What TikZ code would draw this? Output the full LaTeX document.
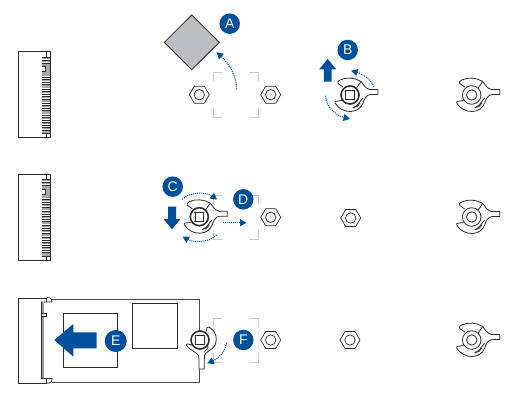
\documentclass[tikz,border=0pt]{standalone}
\usepackage{fontspec}
\setmainfont{Liberation Sans}
\usetikzlibrary{arrows.meta,bending}
\definecolor{asus}{HTML}{00509E}
\definecolor{dia}{HTML}{BCBDC0}
\definecolor{brk}{HTML}{C8C9CB}
\definecolor{line}{HTML}{2A2A2A}
\tikzset{
  outl/.style={draw=line,line width=0.8pt},
  badge/.style={circle,fill=asus,text=white,minimum size=20.5pt,inner sep=0pt,font=\fontsize{14}{14}\selectfont},
  dotarrow/.style={draw=asus,line width=1.1pt,dash pattern=on 1pt off 1pt,
     -{Triangle[length=6.5pt,width=7pt,fill=asus,sep=0pt]}},
  solidarrow/.style={fill=asus,draw=none},
  brack/.style={draw=brk,line width=1pt},
}
\newcommand{\nutat}[2]{%
  \begin{scope}[shift={(#1,#2)}]
    \draw[line,line width=0.7pt,fill=white] (-10,0)--(-5,-8.5)--(5,-8.5)--(10,0)--(5,8.5)--(-5,8.5)--cycle;
    \draw[line,line width=0.7pt] (0,0) circle (5.2);
  \end{scope}}
\newcommand{\wingshape}{%
    \draw[line,line width=0.8pt,fill=white,line join=round]
      (-7,-8) -- (-12,-11.5) .. controls (-13,-13) and (-12,-14) .. (-10,-15)
      .. controls (-4,-18) and (5,-17.5) .. (11,-13.5)
      .. controls (14,-10) and (15,-6.5) .. (20,-5.5) -- (28,-5.5) -- (28,-0.5) -- (21,-0.5)
      .. controls (16,-0.5) and (14.5,4) .. (13,8)
      .. controls (11,13) and (7,16) .. (1,16.5)
      .. controls (-6,17) and (-12,13) .. (-15,8)
      .. controls (-15.5,7) and (-15,6.3) .. (-14,6.3) -- (-8,5.5);
    \draw[line,line width=0.8pt] (11,-13.5) -- (6.5,-7);
    \draw[line,line width=0.8pt] (3,12.8) .. controls (8,11) and (10,6) .. (13,3);
    \draw[line,line width=0.8pt] (3,12.8) .. controls (6,13) and (8,11) .. (10,8);
    \draw[line,line width=0.8pt,fill=white] (0,0) circle (9.3);}
\newcommand{\wingplain}[2]{%
  \begin{scope}[shift={(#1,#2)}]
    \wingshape
    \draw[line,line width=0.8pt] (0,0) circle (5.2);
  \end{scope}}
\newcommand{\screwsq}{%
    \draw[line,line width=1.3pt,fill=white] (0,0) circle (8.9);
    \draw[line,line width=0.6pt] (-4.4,-4.4) rectangle (4.4,4.4);
    \foreach \a in {45,135,225,315}{\fill[line] (\a:6.2) circle (0.7);}}
\newcommand{\wingscrew}[2]{%
  \begin{scope}[shift={(#1,#2)}]
    \wingshape
    \screwsq
  \end{scope}}
\newcommand{\wingdown}[2]{%
  \begin{scope}[shift={(#1,#2)}]
    \draw[line,line width=0.8pt,fill=white,line join=round]
      (6,-8) -- (7,-12.5) .. controls (8,-13.5) and (9,-13) .. (10.5,-12)
      .. controls (16,-8) and (17.5,-2) .. (15.5,4)
      .. controls (14,8) and (10,10) .. (6,13)
      .. controls (4.5,14.5) and (4.3,16) .. (4.3,18.5) -- (4.3,29) -- (-1,29) -- (-1,19)
      .. controls (-1,15) and (-3,13) .. (-6,11.5)
      .. controls (-9,10) and (-12,8) .. (-13.5,5.5)
      .. controls (-14,4.3) and (-13,3.5) .. (-12,4) -- (-7,5.5);
    \draw[line,line width=0.8pt] (7.5,5) .. controls (9,8) and (7,9.5) .. (4.5,11.5);
    \draw[line,line width=0.8pt,fill=white] (0,0) circle (9.3);
    \screwsq
  \end{scope}}
\newcommand{\brackets}[4]{% x1 y1 x2 y2
  \draw[brack] (#1+9,#2)--(#1,#2)--(#1,#2+9);
  \draw[brack] (#3-9,#2)--(#3,#2)--(#3,#2+9);
  \draw[brack] (#1+9,#4)--(#1,#4)--(#1,#4-9);
  \draw[brack] (#3-9,#4)--(#3,#4)--(#3,#4-9);}
\newcommand{\slot}[1]{%
  \begin{scope}[shift={(0,#1)}]
    \draw[outl,fill=white,line width=1pt] (18.5,52) rectangle (50.5,137.5);
    \fill[gray!70] (41.5,57) rectangle (50,133.5);
    \fill[white] (41,66.5) rectangle (45.5,71.5);
    \draw[line,line width=0.6pt] (41.5,66.5)--(45.5,66.5)--(45.5,71.5)--(41.5,71.5);
    \fill[white] (46.5,52.5) rectangle (50,57);
    \fill[white] (46.5,133.5) rectangle (50,137);
    \draw[line,line width=0.6pt] (46.5,52)--(46.5,57);
    \draw[line,line width=0.6pt] (46.5,133.5)--(46.5,137.5);
    \draw[line,line width=0.6pt] (41.5,57)--(50,57);
    \draw[line,line width=0.6pt] (41.5,133.5)--(50,133.5);
    \foreach \y in {59,62,76,78.5,81,83.5,88,90.5,93,95.5,98,102,104.5,107,109.5,114,116.5,119,121.5,124,126.5,129}{
      \draw[white,line width=0.7pt] (42,\y)--(50,\y);
      \draw[line,line width=0.5pt] (42,\y+1)--(50,\y+1);}
  \end{scope}}
\begin{document}
\begin{tikzpicture}[x=1pt,y=-1pt]
\useasboundingbox (0,0) rectangle (524,401);
\fill[white] (0,0) rectangle (524,401);

% slots
\slot{0}
\slot{122.5}

% row 1
\draw[outl,fill=dia] (191.7,15)--(219.3,42.3)--(191.7,69.7)--(164.3,42.3)--cycle;
\brackets{213.3}{72.3}{258.3}{117.3}
\nutat{199.3}{94.7}
\nutat{270.7}{94.7}
\node[badge] (A) at (229.7,23.7) {A};
\coordinate (a1) at (236.7,89.3);
\coordinate (a2) at (216.5,52.3);
\draw[dotarrow] (a1) .. controls (236.5,75) and (228,61) .. (a2);
\wingscrew{350}{95}
\node[badge] (B) at (347.7,50) {B};
\fill[solidarrow] (327.7,59)--(336.2,69.3)--(331.5,69.3)--(331.5,81.7)--(323.9,81.7)--(323.9,69.3)--(319.2,69.3)--cycle;
\coordinate (b1) at (374,87);
\coordinate (b2) at (351,70.7);
\draw[dotarrow] (b1) .. controls (371,79) and (362,73) .. (b2);
\coordinate (b3) at (325.7,95.7);
\coordinate (b4) at (350,119);
\draw[dotarrow] (b3) .. controls (326,107) and (336,117) .. (b4);
\wingplain{471.7}{95}

% row 2
\brackets{213.3}{195}{258.3}{239.3}
\wingscrew{199.3}{216.7}
\nutat{270.7}{217.3}
\nutat{350.7}{218}
\wingplain{471.7}{217}
\node[badge] (C) at (172.7,186.7) {C};
\node[badge] (D) at (243.3,199.3) {D};
\fill[solidarrow] (172,229.3)--(180.5,219)--(176,219)--(176,206.7)--(168,206.7)--(168,219)--(163.5,219)--cycle;
\coordinate (c1) at (182.3,199.3);
\coordinate (c2) at (217,199.5);
\draw[dotarrow] (c1) .. controls (190,192) and (208,190) .. (c2);
\coordinate (c3) at (216.7,235);
\coordinate (c4) at (182.5,236.5);
\draw[dotarrow] (c3) .. controls (208,243) and (192,244) .. (c4);
\coordinate (d1) at (222.7,222.7);
\coordinate (d2) at (246.5,222.7);
\draw[dotarrow] (d1) -- (d2);

% row 3
\draw[line,line width=1pt] (46.5,298) -- (18.5,298) -- (18.5,383) -- (46.5,383);
\draw[line!85,line width=1pt] (51.5,299) -- (199.5,299) -- (199.5,382) -- (51.5,382);
\draw[line,line width=0.7pt] (46.5,297.8) -- (49.5,297.8) .. controls (51.3,297.8) and (52,300) .. (52,302) -- (41.5,302) -- (41.5,305);
\draw[line,line width=0.7pt] (46.5,383) -- (49.5,383) .. controls (51.3,383) and (52,381) .. (52,378.5) -- (41.5,378.5) -- (41.5,376);
\draw[line,line width=0.7pt] (46.5,297.8)--(46.5,302);
\draw[line,line width=0.7pt] (46.5,383)--(46.5,378.5);
\fill[gray!80] (41.6,303) rectangle (44.3,378);
\draw[line,line width=0.6pt] (41.6,303)--(41.6,378);
\draw[line,line width=0.6pt,fill=white] (41.6,313) -- (46.5,313) -- (46.5,316.5) -- (41.6,316.5);
\draw[line,line width=0.8pt] (63,313.2) rectangle (117.3,367.3);
\draw[line,line width=0.8pt] (132.5,303.7) rectangle (177,348.3);
\fill[solidarrow] (54.3,340)--(73.3,324)--(73.3,332.3)--(96.7,332.3)--(96.7,348.3)--(73.3,348.3)--(73.3,356.7)--cycle;
\node[badge,minimum size=22pt] (E) at (115.7,341) {E};
\brackets{213.3}{318.3}{258.3}{362.3}
\wingdown{200}{340}
\nutat{270.7}{340}
\nutat{350}{340}
\wingplain{471.7}{340}
\node[badge] (F) at (243.3,340) {F};
\coordinate (f1) at (226.7,343.3);
\coordinate (f2) at (207.3,363.3);
\draw[dotarrow] (f1) .. controls (225,352) and (218,360) .. (f2);
\end{tikzpicture}
\end{document}
